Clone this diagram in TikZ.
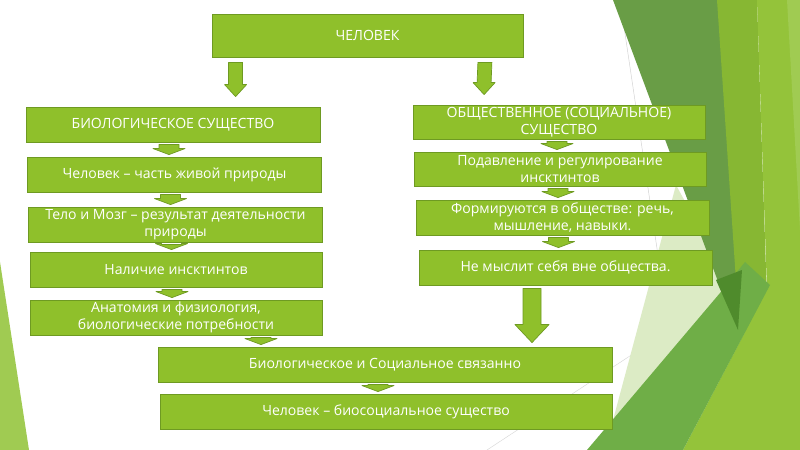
\documentclass[tikz,border=0pt]{standalone}
\usepackage{fontspec}
\setmainfont{Open Sans}
\usetikzlibrary{calc}
\definecolor{leaf}{HTML}{8FC02B}
\definecolor{leafline}{HTML}{6E9A22}
\definecolor{facetdark}{HTML}{699D46}
\definecolor{facettip}{HTML}{4F8B2C}
\definecolor{facetband}{HTML}{87B733}
\definecolor{facetbright}{HTML}{94C33A}
\definecolor{facetlight}{HTML}{A0CB52}
\definecolor{facetmid}{HTML}{6FAE47}
\definecolor{facetpale}{HTML}{DCEBC5}
\newcommand{\blockarrow}[5]{%
  \draw[arr] ($(#1)+(-#3,0)$) -- ($(#1)+(#3,0)$) -- ($(#2)+(#3,-#5)$) -- ($(#2)+(#4,-#5)$)
    -- (#2) -- ($(#2)+(-#4,-#5)$) -- ($(#2)+(-#3,-#5)$) -- cycle;}

\begin{document}
\begin{tikzpicture}[x=.3mm,y=-.3mm,
  box/.style={draw=leafline,fill=leaf,line width=.7pt,text=white,align=center,
    minimum height=10.5mm,inner sep=1pt,font=\fontsize{12}{14.5}\selectfont},
  arr/.style={draw=leafline,fill=leaf,line width=.6pt,line join=round}]
  \fill[white] (0,0) rectangle (800,450);
  \useasboundingbox (0,0) rectangle (800,450);

  \fill[facetlight] (0,262) -- (29,450) -- (0,450) -- cycle;
  \draw[gray!35,line width=.4pt] (620,0) -- (687,450);
  \draw[gray!30,line width=.4pt] (487,450) -- (800,244);
  \fill[facetpale] (676,185) -- (750,320) -- (605,450) -- cycle;
  \fill[facetdark] (613,0) -- (722,0) -- (745,160) -- (738,335) -- cycle;
  \fill[facetband] (717,0) -- (757,0) -- (767,300) -- (740,340) -- cycle;
  \fill[facetbright] (757,0) -- (800,0) -- (800,450) -- (683,450) -- (767,290) -- cycle;
  \fill[facetlight] (787,0) -- (800,0) -- (800,230) -- cycle;
  \fill[facetmid] (587,450) -- (720,293) -- (745,262) -- (770,285) -- (683,450) -- cycle;
  \fill[facettip] (716,280) -- (742,270) -- (738,330) -- cycle;

  \node[box,minimum width=93.3mm,minimum height=12.9mm] (man) at (367.5,35.5) {ЧЕЛОВЕК};

  \node[box,minimum width=88.2mm] (bio) at (173,124.5) {БИОЛОГИЧЕСКОЕ СУЩЕСТВО};
  \node[box,minimum width=88mm] (part) at (174.5,174.5) {Человек – часть живой природы};
  \node[box,minimum width=88mm] (body) at (175.5,224.5) {Тело и Мозг – результат деятельности\\природы};
  \node[box,minimum width=87.6mm] (inst) at (176,269.5) {Наличие инсктинтов};
  \node[box,minimum width=87.6mm] (anat) at (176,317.5) {Анатомия и физиология,\\биологические потребности};

  \node[box,minimum width=87.6mm,minimum height=10.2mm] (soc) at (559,122) {ОБЩЕСТВЕННОЕ (СОЦИАЛЬНОЕ)\\СУЩЕСТВО};
  \node[box,minimum width=87.6mm,minimum height=10.2mm] (supp) at (560,169) {Подавление и регулирование\\инсктинтов};
  \node[box,minimum width=87.9mm] (form) at (562.5,217.5) {Формируются в обществе: речь,\\мышление, навыки.};
  \node[box,minimum width=87.9mm] (nthink) at (565.5,267.5) {Не мыслит себя вне общества.};

  \node[box,minimum width=136.2mm] (link) at (385,364.5) {Биологическое и Социальное связанно};
  \node[box,minimum width=135.6mm] (bios) at (386,411.5) {Человек – биосоциальное существо};

  \coordinate (a1s) at ($(man.south west)+(24,5)$);
  \coordinate (a1e) at ($(bio.north west)+(210,-10)$);
  \blockarrow{a1s}{a1e}{7}{11}{12}
  \coordinate (a2s) at ($(man.south east)+(-38.5,5)$);
  \coordinate (a2e) at ($(soc.north west)+(71.5,-10)$);
  \blockarrow{a2s}{a2e}{7}{11}{12}
  \coordinate (a3s) at ($(nthink.south)+(-33.5,3)$);
  \coordinate (a3e) at ($(link.north)+(147,-4)$);
  \blockarrow{a3s}{a3e}{9}{17}{18}

  \foreach \a/\b/\d in {bio/part/-4,part/body/-4,body/inst/-4,inst/anat/-4,
      soc/supp/-2,supp/form/-2,form/nthink/-4,anat/link/85,link/bios/-7} {
    \coordinate (s) at ($(\a.south)+(\d,2)$);
    \coordinate (e0) at (s |- \b.north);
    \coordinate (e) at ($(e0)+(0,-2)$);
    \blockarrow{s}{e}{10}{16}{6}
  }
\end{tikzpicture}
\end{document}
